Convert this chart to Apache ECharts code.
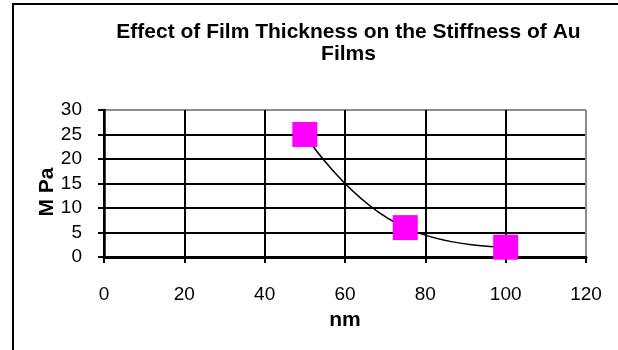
<!DOCTYPE html>
<html>
<head>
<meta charset="utf-8">
<script src="https://cdn.jsdelivr.net/npm/echarts@6/dist/echarts.min.js"></script>
<style>
  html, body { margin: 0; padding: 0; background: #fff; }
  #chart { width: 618px; height: 350px; }
</style>
</head>
<body>
<div id="chart"></div>
<script>
// Film thickness (nm) vs. stiffness (MPa) for gold films
const thickness = [50, 75, 100];
const stiffness = [25, 6, 2];
const xTicks = { min: 0, max: 120, interval: 20 };
const yTicks = { min: 0, max: 30, interval: 5 };
const titleLines = ['Effect of Film Thickness on the Stiffness of Au', 'Films'];
const xName = 'nm';
const yName = 'M Pa';

const font = '"Liberation Sans", Arial, sans-serif';
// last grid line of each axis sits on the plot border, drawn grey
const gridColors = ['#000', '#000', '#000', '#000', '#000', '#000', '#8c8c8c'];

const chart = echarts.init(document.getElementById('chart'), null, { renderer: 'canvas' });
chart.setOption({
  animation: false,
  backgroundColor: '#fff',
  title: [
    { text: titleLines[0], left: 343.5, top: 17, textAlign: 'center',
      textStyle: { fontFamily: font, fontSize: 21, fontWeight: 'bold', color: '#000' } },
    { text: titleLines[1], left: 343.5, top: 39, textAlign: 'center',
      textStyle: { fontFamily: font, fontSize: 21, fontWeight: 'bold', color: '#000' } }
  ],
  grid: { left: 104, right: 32, top: 110, bottom: 93, containLabel: false },
  xAxis: {
    type: 'value', min: xTicks.min, max: xTicks.max, interval: xTicks.interval,
    name: xName, nameLocation: 'middle', nameGap: 53,
    nameTextStyle: { fontFamily: font, fontSize: 21, fontWeight: 'bold', color: '#000' },
    axisLine: { show: true, onZero: false, lineStyle: { color: '#000', width: 3 } },
    axisTick: { show: true, inside: false, length: 6, lineStyle: { color: '#000', width: 2 } },
    axisLabel: { margin: 28, fontFamily: font, fontSize: 19, color: '#000' },
    splitLine: { show: true, lineStyle: { color: gridColors, width: 2 } }
  },
  yAxis: {
    type: 'value', min: yTicks.min, max: yTicks.max, interval: yTicks.interval,
    axisLine: { show: true, onZero: false, lineStyle: { color: '#000', width: 2.5 } },
    axisTick: { show: true, inside: false, length: 6, lineStyle: { color: '#000', width: 2 } },
    axisLabel: { margin: 22, fontFamily: font, fontSize: 19, color: '#000' },
    splitLine: { show: true, lineStyle: { color: gridColors, width: 2 } }
  },
  graphic: [
    // outer chart frame (top and left edges)
    { type: 'polyline', z: 100, silent: true,
      shape: { points: [[618, 4], [13, 4], [13, 350]] },
      style: { stroke: '#000', lineWidth: 2, fill: null } },
    { type: 'text', x: 47, y: 192, rotation: Math.PI / 2, z: 100,
      style: { text: yName, fontFamily: font, fontSize: 21, fontWeight: 'bold',
               fill: '#000', textAlign: 'center', textVerticalAlign: 'middle' } }
  ],
  series: [{
    type: 'line',
    data: thickness.map((t, i) => [t, stiffness[i]]),
    smooth: true,
    symbol: 'rect',
    symbolSize: 25,
    itemStyle: { color: '#ff00ff', borderWidth: 0 },
    lineStyle: { color: '#000', width: 1.5 },
    z: 5
  }]
});
</script>
</body>
</html>
